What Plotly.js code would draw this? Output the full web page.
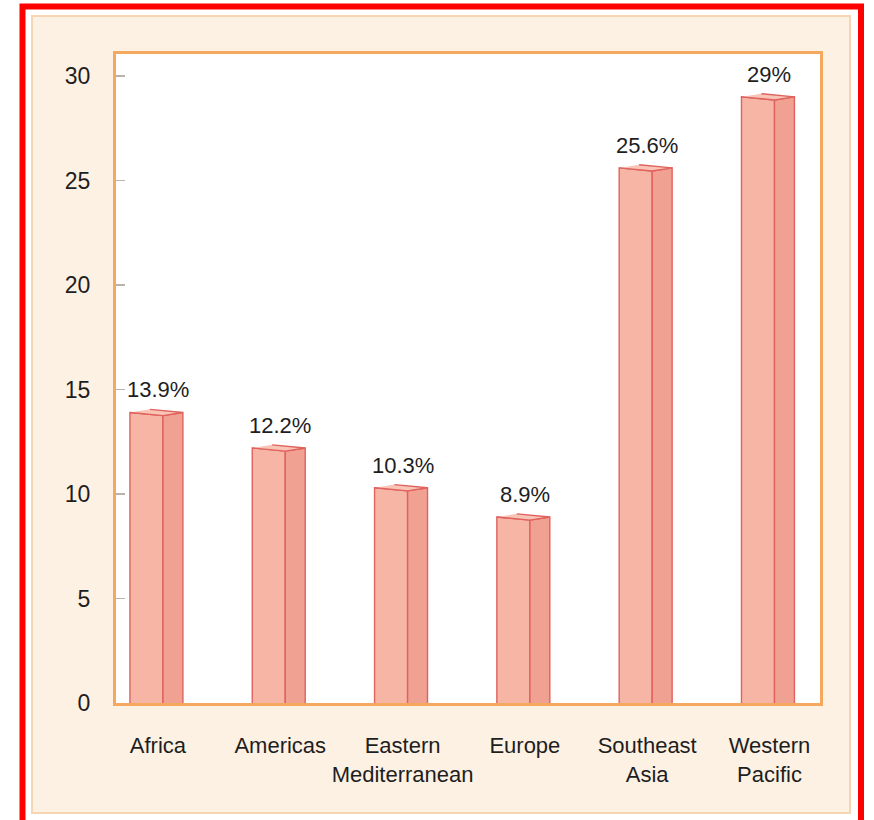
<!DOCTYPE html>
<html>
<head>
<meta charset="utf-8">
<script src="https://cdn.plot.ly/plotly-3.0.1.min.js"></script>
<style>
  html, body { margin: 0; padding: 0; background: #ffffff; }
  #chart { width: 874px; height: 820px; }
</style>
</head>
<body>
<div id="chart"></div>
<script>
// Regional shares (%), one prism per region
const regions = ['Africa', 'Americas', 'Eastern<br>Mediterranean', 'Europe', 'Southeast<br>Asia', 'Western<br>Pacific'];
const shares = [13.9, 12.2, 10.3, 8.9, 25.6, 29];
const yTickValues = [0, 5, 10, 15, 20, 25, 30];

// Frame geometry (pixels) and the plot-area margins
const W = 874, H = 820;
const M = { l: 116, r: 54, t: 54, b: 117 };
const plotW = W - M.l - M.r, plotH = H - M.t - M.b;
const px = x => (x - M.l) / plotW;          // page x -> paper x
const py = y => (H - M.b - y) / plotH;       // page y -> paper y

// Prism shape, in axis units relative to the category position
const FRONT_L = -0.229, CORNER = 0.041, RIGHT = 0.204, TILT = 0.15;
const BACK_L = FRONT_L + (RIGHT - CORNER);

const pos = regions.map((_, i) => i);

function faces(build) {
  const xs = [], ys = [];
  pos.forEach((p, i) => {
    build(p, shares[i]).forEach(([x, y]) => { xs.push(x); ys.push(y); });
    xs.push(null); ys.push(null);
  });
  return { x: xs, y: ys };
}

const frontFaces = faces((p, v) => [[p + FRONT_L, 0], [p + FRONT_L, v], [p + CORNER, v - TILT], [p + CORNER, -TILT]]);
const sideFaces  = faces((p, v) => [[p + CORNER, -TILT], [p + CORNER, v - TILT], [p + RIGHT, v], [p + RIGHT, 0]]);
const capFaces   = faces((p, v) => [[p + FRONT_L, v], [p + CORNER, v - TILT], [p + RIGHT, v], [p + BACK_L, v + TILT]]);

const edge = { color: '#e0625e', width: 1.4 };
const faceTrace = (f, fill) => ({
  type: 'scatter', mode: 'lines', x: f.x, y: f.y,
  fill: 'toself', fillcolor: fill, line: edge,
  hoverinfo: 'skip', showlegend: false
});

const data = [
  faceTrace(frontFaces, '#f7b6a5'),
  faceTrace(sideFaces, '#f0a192'),
  faceTrace(capFaces, '#f9c4b6')
];

const labels = pos.map((p, i) => ({
  x: p, y: shares[i], xref: 'x', yref: 'y',
  text: shares[i] + '%', showarrow: false,
  xanchor: 'center', yanchor: 'bottom', yshift: 8,
  font: { family: 'Liberation Sans, Arial, sans-serif', size: 22, color: '#1e1e1e' }
}));

const layout = {
  width: W, height: H,
  margin: M,
  paper_bgcolor: '#ffffff',
  plot_bgcolor: '#ffffff',
  font: { family: 'Liberation Sans, Arial, sans-serif', color: '#1e1e1e' },
  showlegend: false,
  xaxis: {
    range: [-0.343, 5.413],
    tickmode: 'array', tickvals: pos, ticktext: regions,
    showgrid: false, zeroline: false,
    showline: true, mirror: true, linecolor: '#f4a95f', linewidth: 3,
    ticks: '', ticklabelstandoff: 21,
    tickfont: { size: 22, color: '#1e1e1e' },
    fixedrange: true
  },
  yaxis: {
    range: [0, 31.05],
    tickmode: 'array', tickvals: yTickValues,
    showgrid: false, zeroline: false,
    showline: true, mirror: true, linecolor: '#f4a95f', linewidth: 3,
    ticks: 'inside', ticklen: 9, tickwidth: 1.5, tickcolor: '#b9b3aa',
    ticklabelstandoff: 18,
    tickfont: { size: 23, color: '#1e1e1e' },
    fixedrange: true
  },
  annotations: labels,
  shapes: [
    // outer red frame
    { type: 'rect', xref: 'paper', yref: 'paper', layer: 'below',
      x0: px(22.5), x1: px(861), y0: py(6.5), y1: py(840),
      line: { color: '#ff0000', width: 6 }, fillcolor: 'rgba(0,0,0,0)' },
    // cream panel
    { type: 'rect', xref: 'paper', yref: 'paper', layer: 'below',
      x0: px(32), x1: px(850), y0: py(16), y1: py(813),
      line: { color: '#f6d6b2', width: 2 }, fillcolor: '#fdf1e4' },
    // white plotting field
    { type: 'rect', xref: 'paper', yref: 'paper', layer: 'below',
      x0: 0, x1: 1, y0: 0, y1: 1,
      line: { width: 0 }, fillcolor: '#ffffff' }
  ]
};

Plotly.newPlot('chart', data, layout, { displayModeBar: false, staticPlot: true });
</script>
</body>
</html>
